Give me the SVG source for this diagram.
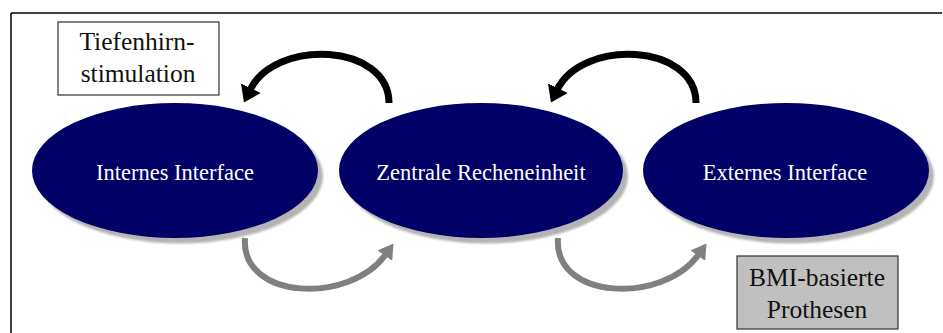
<svg xmlns="http://www.w3.org/2000/svg" width="943" height="333" viewBox="0 0 943 333">
<style>
.node{fill:#000066}
.shadow{fill:#b4b4b4}
.ntext{font-family:"Liberation Serif","Times New Roman",serif;font-size:22.5px;fill:#ffffff;text-anchor:middle}
.btext{font-family:"Liberation Serif","Times New Roman",serif;font-size:25.5px;fill:#111111;text-anchor:middle}
.blk{fill:none;stroke:#000000;stroke-width:7}
.gry{fill:none;stroke:#808080;stroke-width:6}
</style>
<defs>
<marker id="hb" markerUnits="userSpaceOnUse" viewBox="0 0 16 22" refX="2" refY="11" markerWidth="16" markerHeight="22" orient="auto">
<path d="M0,0 L16,11 L0,22 z" fill="#000000"/>
</marker>
<marker id="hg" markerUnits="userSpaceOnUse" viewBox="0 0 15 18" refX="2" refY="9" markerWidth="15" markerHeight="18" orient="auto">
<path d="M0,0 L15,9 L0,18 z" fill="#808080"/>
</marker>
<filter id="blur" x="-10%" y="-10%" width="120%" height="120%"><feGaussianBlur stdDeviation="1.2"/></filter>
</defs>
<g id="frame">
<line x1="11" y1="13" x2="942" y2="13" stroke="#000" stroke-width="1.5"/>
<line x1="11" y1="13" x2="11" y2="333" stroke="#000" stroke-width="1.5"/>
</g>
<g id="node-internes">
<ellipse class="shadow" cx="180" cy="176" rx="143" ry="67.5" filter="url(#blur)"/>
<ellipse class="node" cx="175" cy="170.5" rx="143" ry="67.5"/>
<text class="ntext" x="175" y="180">Internes Interface</text>
</g>
<g id="node-zentrale">
<ellipse class="shadow" cx="486" cy="176" rx="142" ry="67.5" filter="url(#blur)"/>
<ellipse class="node" cx="481" cy="170.5" rx="142" ry="67.5"/>
<text class="ntext" x="481" y="180">Zentrale Recheneinheit</text>
</g>
<g id="node-externes">
<ellipse class="shadow" cx="791" cy="176" rx="143" ry="67.5" filter="url(#blur)"/>
<ellipse class="node" cx="786" cy="170.5" rx="143" ry="67.5"/>
<text class="ntext" x="785" y="180">Externes Interface</text>
</g>
<g id="box-tiefenhirn">
<rect x="58" y="22" width="161" height="73" fill="#ffffff" stroke="#333333" stroke-width="1.2"/>
<text class="btext" x="137" y="50">Tiefenhirn-</text>
<text class="btext" x="138" y="82">stimulation</text>
</g>
<g id="box-bmi">
<rect x="737" y="256" width="161" height="73" fill="#c0c0c0" stroke="#333333" stroke-width="1.2"/>
<text class="btext" x="817" y="286">BMI-basierte</text>
<text class="btext" x="817" y="318">Prothesen</text>
</g>
<g id="connectors">
<path class="blk" d="M389,103 C389,43 275,38 250,90" marker-end="url(#hb)"/>
<path class="blk" d="M696,103 C696,43 582,38 557,90" marker-end="url(#hb)"/>
<path class="gry" d="M245,238 C240,300 350,305 386,254" marker-end="url(#hg)"/>
<path class="gry" d="M558,238 C553,300 663,305 699,254" marker-end="url(#hg)"/>
</g>
</svg>
